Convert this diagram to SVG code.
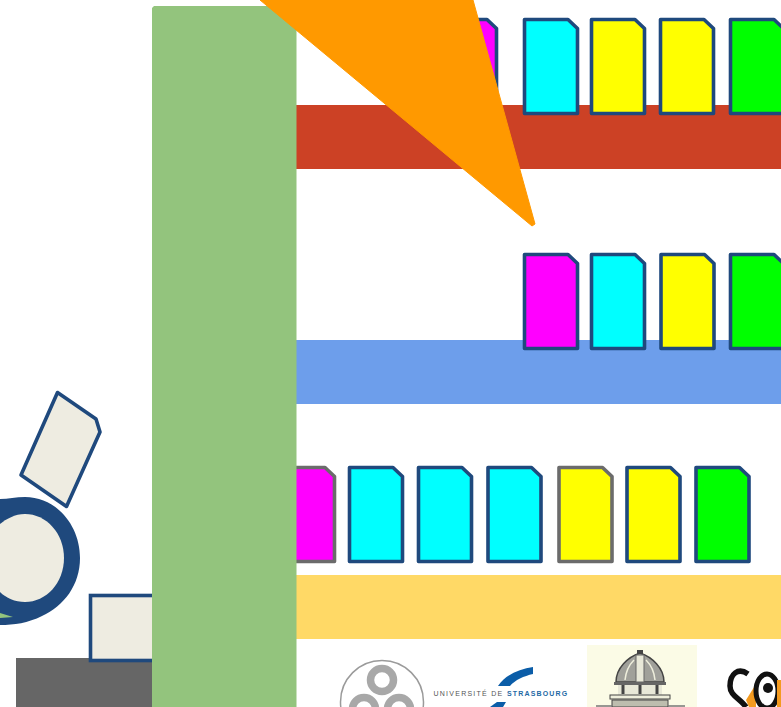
<svg xmlns="http://www.w3.org/2000/svg" width="781" height="707" viewBox="0 0 781 707">
<defs>
<path id="card" d="M0 0H43.500L53 9V94H0Z"/>
</defs>
<style>
.b{stroke:#1f497d;stroke-width:3.600;stroke-linejoin:round}
.g{stroke:#6b6b6b;stroke-width:3.600;stroke-linejoin:round}
.m{fill:#ff00ff}.c{fill:#00ffff}.y{fill:#ffff00}.l{fill:#00ff00}
.t{font-family:"Liberation Sans",Arial,sans-serif}
.ring{fill:none;stroke:#a8a8a8;stroke-width:7.500}
</style>
<rect width="781" height="707" fill="#fff"/>
<g id="left-shapes">
<rect x="16" y="658" width="140" height="49" fill="#666666"/>
<rect x="90.500" y="595.500" width="70" height="65" fill="#eeece1" stroke="#1f497d" stroke-width="3.600"/>
<path d="M57.500 392.500L96 419L100 432L66.500 506.500L21 475Z" fill="#eeece1" stroke="#1f497d" stroke-width="3.600" stroke-linejoin="round"/>
<path d="M0 499C8 499 16 497 25 497C56 497 80 525 80 558C80 585 64 606 42 616C28 623 14 625 0 625Z" fill="#1f497d"/>
<path d="M0 524C6 519 15 514 25 514C46 514 64 533 64 558C64 583 46 602 25 602C15 602 6 598 0 592Z" fill="#eeece1"/>
<path d="M0 613L13 617L0 618Z" fill="#93c47d"/>
</g>
<g id="band-red"><rect x="296" y="105" width="485" height="64" fill="#cc4125"/></g>
<g id="band-blue"><rect x="296" y="340" width="485" height="64" fill="#6d9eeb"/></g>
<g id="band-yellow"><rect x="296" y="575" width="485" height="64" fill="#ffd966"/></g>
<g id="row-top">
<use href="#card" x="443.500" y="19.500" class="m b"/>
<use href="#card" x="524.500" y="19.500" class="c b"/>
<use href="#card" x="591.500" y="19.500" class="y b"/>
<use href="#card" x="660.500" y="19.500" class="y b"/>
<use href="#card" x="730.500" y="19.500" class="l b"/>
</g>
<g id="row-middle">
<use href="#card" x="524.500" y="254.500" class="m b"/>
<use href="#card" x="591.500" y="254.500" class="c b"/>
<use href="#card" x="661" y="254.500" class="y b"/>
<use href="#card" x="730.500" y="254.500" class="l b"/>
</g>
<g id="row-bottom">
<use href="#card" x="281.500" y="467.500" class="m g"/>
<use href="#card" x="349.500" y="467.500" class="c b"/>
<use href="#card" x="418.500" y="467.500" class="c b"/>
<use href="#card" x="488" y="467.500" class="c b"/>
<use href="#card" x="559" y="467.500" class="y g"/>
<use href="#card" x="627" y="467.500" class="y b"/>
<use href="#card" x="696" y="467.500" class="l b"/>
</g>
<g id="green-panel"><path d="M154 6H296.500V707H152V8Z" fill="#93c47d"/></g>
<g id="pointer"><path d="M260 0H473L535 224L532 226Z" fill="#ff9900" stroke="#ff9900" stroke-linejoin="round"/></g>
<g id="logo-circles">
<circle cx="382" cy="702" r="41.500" fill="#fff" stroke="#9a9a9a" stroke-width="1.500"/>
<circle cx="382" cy="680" r="11.500" class="ring"/>
<circle cx="364" cy="709" r="11.500" class="ring"/>
<circle cx="399" cy="709" r="11.500" class="ring"/>
</g>
<g id="logo-strasbourg">
<text x="433.500" y="695.500" class="t" font-size="7" letter-spacing="1.250" fill="#555">UNIVERSITÉ DE</text>
<text x="507" y="695.500" class="t" font-size="7" font-weight="bold" letter-spacing="1.150" fill="#1f6aa5">STRASBOURG</text>
<path d="M533 667C519 669 505 675 498 686L510 686C515 680 524 676 533 674Z" fill="#0b5da8"/>
<path d="M497 702L490 707H503L506 702Z" fill="#0b5da8"/>
</g>
<g id="logo-observatory">
<rect x="587" y="645" width="110" height="62" fill="#fbfbe6"/>
<path d="M616 682C616 668 628 657 640 653C652 657 664 668 664 682Z" fill="#a0a09a" stroke="#444" stroke-width="1.500"/>
<path d="M625 680C626 670 630 664 634 660M655 680C654 670 650 664 646 660" fill="none" stroke="#eeeedc" stroke-width="1.500"/>
<path d="M636 655H644V682H636Z" fill="#e8e8d8" stroke="#666"/>
<rect x="637" y="650" width="6" height="4" fill="#444"/>
<rect x="614" y="682" width="52" height="3" fill="#666"/>
<rect x="618" y="685" width="44" height="10" fill="#e8e8d8"/>
<path d="M623 685V694M640 685V694M657 685V694" stroke="#444" stroke-width="3"/>
<rect x="610" y="695" width="60" height="4" fill="#eeeedc" stroke="#444"/>
<rect x="612" y="700" width="56" height="7" fill="#bdbdae" stroke="#444"/>
<path d="M596 706H612M668 706H685" stroke="#777" stroke-width="1.500"/>
</g>
<g id="logo-ca">
<path d="M746 700L756 684V707H749Z" fill="#f39a1f"/>
<path d="M748 674C738 667 730 674 730 686C730 696 740 698 746 707" fill="none" stroke="#111" stroke-width="5.500"/>
<ellipse cx="767" cy="691" rx="11" ry="17" fill="#fff" stroke="#111" stroke-width="5"/>
<circle cx="768" cy="688" r="5" fill="#111"/>
<path d="M777 680H781V707H777Z" fill="#f39a1f"/>
</g>
</svg>
